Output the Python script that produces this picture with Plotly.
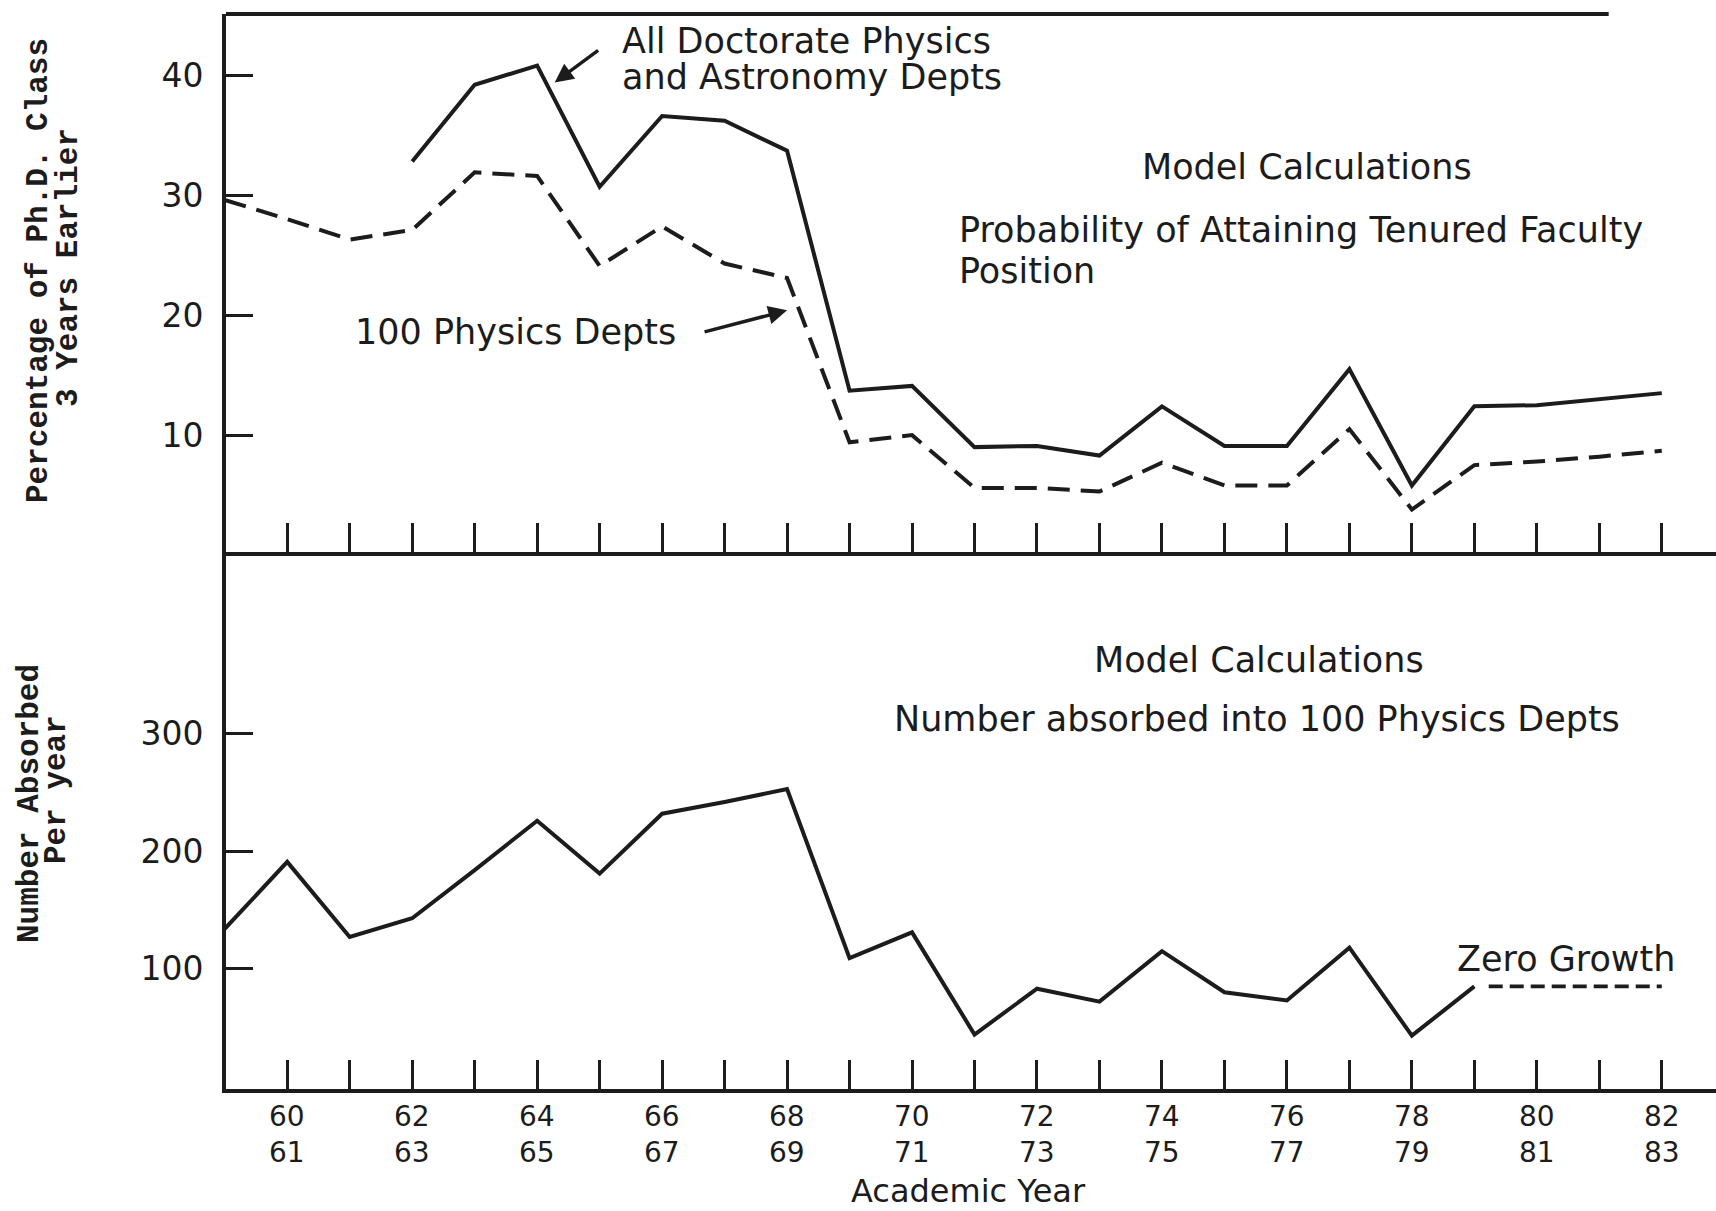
import plotly.graph_objects as go
from plotly.subplots import make_subplots

# ---- data -------------------------------------------------------------
# Academic years are indexed by their first calendar year (60 -> 1960-61)
all_doct_years = list(range(62, 83))
all_doct_pct = [32.8, 39.2, 40.8, 30.7, 36.6, 36.2, 33.7, 13.7, 14.1, 9.0, 9.1,
                8.3, 12.4, 9.1, 9.1, 15.5, 5.8, 12.4, 12.5, 13.0, 13.5]

phys100_years = list(range(59, 83))
phys100_pct = [29.6, 28.0, 26.3, 27.1, 31.9, 31.6, 24.1, 27.4, 24.3, 23.1, 9.4, 10.0,
               5.6, 5.6, 5.3, 7.7, 5.8, 5.8, 10.5, 3.8, 7.5, 7.8, 8.2, 8.7]

absorbed_years = list(range(59, 80))
absorbed_num = [134, 191, 127, 143, 184, 226, 181, 232, 242, 253, 109, 131,
                44, 83, 72, 115, 80, 73, 118, 43, 85]

zero_growth_years = [79.23, 82]
zero_growth_num = [85, 85]

tick_years = list(range(60, 83))
label_years = list(range(60, 83, 2))
pct_ticks = [10, 20, 30, 40]
num_ticks = [100, 200, 300]

# ---- styling ------------------------------------------------------------
INK = "#1c1c1c"
SANS = "'DejaVu Sans', Lato, sans-serif"
MONO = "'Liberation Mono', 'DejaVu Sans Mono', monospace"

W, H = 1716, 1211
ML, MR, MT, MB = 226, 0, 14, 122
PW, PH = W - ML - MR, H - MT - MB


def px(x, y):
    """Convert page pixel position to paper coordinates."""
    return (x - ML) / PW, (H - MB - y) / PH


fig = make_subplots(rows=2, cols=1, vertical_spacing=0)

line_solid = dict(color=INK, width=4)
line_dash = dict(color=INK, width=4, dash="22px,11px")

fig.add_trace(go.Scatter(x=all_doct_years, y=all_doct_pct, mode="lines",
                         line=line_solid, showlegend=False), row=1, col=1)
fig.add_trace(go.Scatter(x=phys100_years, y=phys100_pct, mode="lines",
                         line=line_dash, showlegend=False), row=1, col=1)
fig.add_trace(go.Scatter(x=absorbed_years, y=absorbed_num, mode="lines",
                         line=line_solid, showlegend=False), row=2, col=1)
fig.add_trace(go.Scatter(x=zero_growth_years, y=zero_growth_num, mode="lines",
                         line=dict(color=INK, width=3.6, dash="14px,7px"),
                         showlegend=False), row=2, col=1)

x_range = [59.02, 59.02 + PW / 62.48]
xcommon = dict(range=x_range, showgrid=False, zeroline=False, showline=True,
               linecolor=INK, linewidth=4, ticks="inside", ticklen=29,
               tickwidth=3, tickcolor=INK, tickvals=tick_years,
               showticklabels=False)
ycommon = dict(showgrid=False, zeroline=False, showline=True, linecolor=INK,
               linewidth=4, ticks="inside", ticklen=27, tickwidth=3.4,
               tickcolor=INK, tickfont=dict(family=SANS, size=33, color=INK),
               ticklabelstandoff=12)

fig.update_xaxes(**xcommon, row=1, col=1)
fig.update_xaxes(**xcommon, row=2, col=1)
fig.update_yaxes(**ycommon, range=[0.3, 45.1], tickvals=pct_ticks, row=1, col=1)
fig.update_yaxes(**ycommon, range=[-2.4, 455.3], tickvals=num_ticks, row=2, col=1)

# top border (stops short of the right edge)
fig.add_shape(type="line", xref="x", yref="paper", x0=x_range[0], x1=81.15,
              y0=1, y1=1, line=dict(color=INK, width=4))

annotations = []

# two-row academic-year labels ("60 / 61") under the lower panel
for yr in label_years:
    annotations.append(dict(x=yr, y=0, xref="x2", yref="paper",
                            text=f"{yr}<br>{yr + 1}", showarrow=False,
                            yanchor="middle", yshift=-45,
                            font=dict(family=SANS, size=28, color=INK)))


def label(text, x, y, size=35, anchor="left", family=SANS, angle=0, weight=None):
    px_x, px_y = px(x, y)
    font = dict(family=family, size=size, color=INK)
    if weight:
        font["weight"] = weight
    annotations.append(dict(x=px_x, y=px_y, xref="paper", yref="paper",
                            text=text, showarrow=False, xanchor=anchor,
                            yanchor="middle", textangle=angle, font=font))


label("Academic Year", 968, 1191, size=32, anchor="center")

# axis titles (typewriter face, rotated)
label("Percentage of Ph.D. Class", 38, 271, size=31, anchor="center",
      family=MONO, angle=-90, weight="bold")
label("3 Years Earlier", 68, 268, size=31, anchor="center", family=MONO,
      angle=-90, weight="bold")
label("Number Absorbed", 29, 804, size=31, anchor="center", family=MONO,
      angle=-90, weight="bold")
label("Per year", 57, 790, size=31, anchor="center", family=MONO, angle=-90,
      weight="bold")

# panel captions
label("All Doctorate Physics", 620, 41)
label("and Astronomy Depts", 620, 77)
label("Model Calculations", 1140, 167)
label("Probability of Attaining Tenured Faculty", 957, 230)
label("Position", 957, 271)
label("100 Physics Depts", 353, 332)
label("Model Calculations", 1092, 660)
label("Number absorbed into 100 Physics Depts", 892, 719)
label("Zero Growth", 1455, 959)

# pointer arrows to the two upper curves
annotations.append(dict(x=64.28, y=39.4, xref="x", yref="y", text="",
                        showarrow=True, arrowhead=2, arrowsize=1.1, arrowwidth=3.4,
                        arrowcolor=INK, ax=45, ay=-33))
annotations.append(dict(x=68.0, y=20.4, xref="x", yref="y", text="",
                        showarrow=True, arrowhead=2, arrowsize=1.1, arrowwidth=3.4,
                        arrowcolor=INK, ax=-84, ay=22))

fig.update_layout(width=W, height=H, margin=dict(l=ML, r=MR, t=MT, b=MB),
                  paper_bgcolor="white", plot_bgcolor="white",
                  annotations=annotations, showlegend=False)

fig.write_html("out.html")
